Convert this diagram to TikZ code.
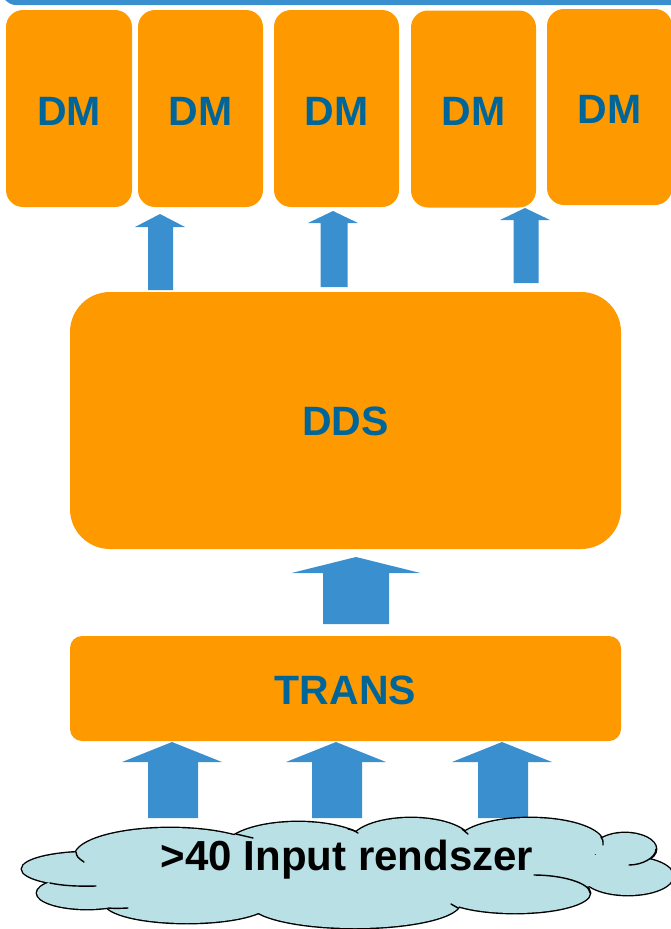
\documentclass[tikz,border=0pt]{standalone}
\usepackage{fontspec}
\setmainfont{Liberation Sans}
\usetikzlibrary{calc}
\definecolor{orng}{RGB}{255,153,0}
\definecolor{arrowblue}{RGB}{58,143,206}
\definecolor{txtblue}{RGB}{0,102,153}
\definecolor{cloudfill}{RGB}{185,224,228}
\tikzset{
  box/.style={fill=orng, draw=none, inner sep=0pt, outer sep=0pt, text=txtblue,
    font=\fontsize{41pt}{41pt}\selectfont\bfseries},
  dmbox/.style={box, rounded corners=17pt, minimum width=125pt, minimum height=197pt, text height=33pt},
  puffline/.style={line width=2.8pt, draw=black, fill=cloudfill},
  crease/.style={line width=1.4pt, draw=black, line cap=round},
}
% block arrow from tail coordinate #1 to tip coordinate #2
% #3 shaft half width, #4 head half width, #5 head length
\newcommand\blockarrow[5]{%
  \path[fill=arrowblue] let \p1=(#1), \p2=(#2) in
    ({\x1-#3},\y1) -- ({\x1-#3},{\y2-#5}) -- ({\x2-#4},{\y2-#5}) -- (\x2,\y2)
    -- ({\x2+#4},{\y2-#5}) -- ({\x1+#3},{\y2-#5}) -- ({\x1+#3},\y1) -- cycle;}
\begin{document}
\begin{tikzpicture}[x=1pt,y=-1pt]
\useasboundingbox (0,0) rectangle (671,929);
% top bar
\fill[arrowblue, rounded corners=14pt] (2,-40) rectangle (720,5);
% DM boxes
\node[dmbox, minimum width=126pt] (dm1) at (69,108.5) {DM};
\node[dmbox] (dm2) at (200.5,108.5) {DM};
\node[dmbox] (dm3) at (336.5,108.5) {DM};
\node[dmbox] (dm4) at (473.5,109) {DM};
\node[dmbox, minimum height=196pt] (dm5) at (609.5,107) {DM};
% DDS and TRANS
\node[box, rounded corners=40pt, minimum width=551pt, minimum height=257pt, text height=31pt] (dds) at (345.5,420.5) {DDS};
\node[box, rounded corners=12pt, minimum width=551pt, minimum height=105pt, text height=32pt] (trans) at (345.5,688.5) {TRANS};
% arrow coordinates
\coordinate (s1b) at (160.5,290); \coordinate (s1t) at (160,214);
\coordinate (s2b) at (334,287);   \coordinate (s2t) at (333,211);
\coordinate (s3b) at (526,283);   \coordinate (s3t) at (525,208);
\coordinate (bgb) at (356,624);   \coordinate (bgt) at (356,557);
\coordinate (i1b) at (173,818);   \coordinate (i1t) at (172,742);
\coordinate (i2b) at (337,818);   \coordinate (i2t) at (336,742);
\coordinate (i3b) at (503,818);   \coordinate (i3t) at (502,742);
\blockarrow{s1b}{s1t}{12.5pt}{25pt}{13pt}
\blockarrow{s2b}{s2t}{13.5pt}{25pt}{12pt}
\blockarrow{s3b}{s3t}{12.5pt}{25pt}{12pt}
\blockarrow{bgb}{bgt}{33pt}{64.5pt}{16pt}
\blockarrow{i1b}{i1t}{25pt}{50pt}{20pt}
\blockarrow{i2b}{i2t}{25pt}{50pt}{20pt}
\blockarrow{i3b}{i3t}{25pt}{50pt}{20pt}
% cloud
\def\puffs{90/869/68pt/17pt, 87/893/50pt/16pt, 187/903/82pt/20pt, 170/856/95pt/28pt,
  298/850/75pt/28pt, 355/903/105pt/25pt, 411/842/60pt/24pt, 530/843/73pt/25pt,
  625/849/31pt/16pt, 628/876/45pt/19pt, 515/893/75pt/20pt}
\foreach \cx/\cy/\rx/\ry in \puffs
  \path[puffline] (\cx,\cy) ellipse [x radius=\rx, y radius=\ry];
\foreach \cx/\cy/\rx/\ry in \puffs
  \fill[cloudfill] (\cx,\cy) ellipse [x radius=\rx, y radius=\ry];
\fill[cloudfill] (345,870) ellipse [x radius=290pt, y radius=30pt];
% creases
\draw[crease] (50,883) .. controls (62,885.5) and (75,886.5) .. (96,886);
\draw[crease] (108,908) .. controls (116,908.5) .. (128,908);
\draw[crease] (76,852) .. controls (77,857) .. (84,862);
\draw[crease] (236,834) .. controls (245,835.5) .. (253,838);
\draw[crease] (348,829) .. controls (353,830) .. (358,833);
\draw[crease] (462,829) .. controls (465,831) .. (468,834);
\draw[crease] (601,837) .. controls (603,840) .. (603,845);
\draw[crease] (656,849) .. controls (656,857.8) and (642,865) .. (629,865);
\draw[crease] (534,875) .. controls (562,875) and (590,883) .. (590,893);
\draw[crease] (451,904) .. controls (454,906) .. (458,908);
\node[font=\fontsize{42pt}{42pt}\selectfont\bfseries, anchor=base, inner sep=0pt] (cloudtext) at (347,870) {>40 Input rendszer};
\end{tikzpicture}
\end{document}
